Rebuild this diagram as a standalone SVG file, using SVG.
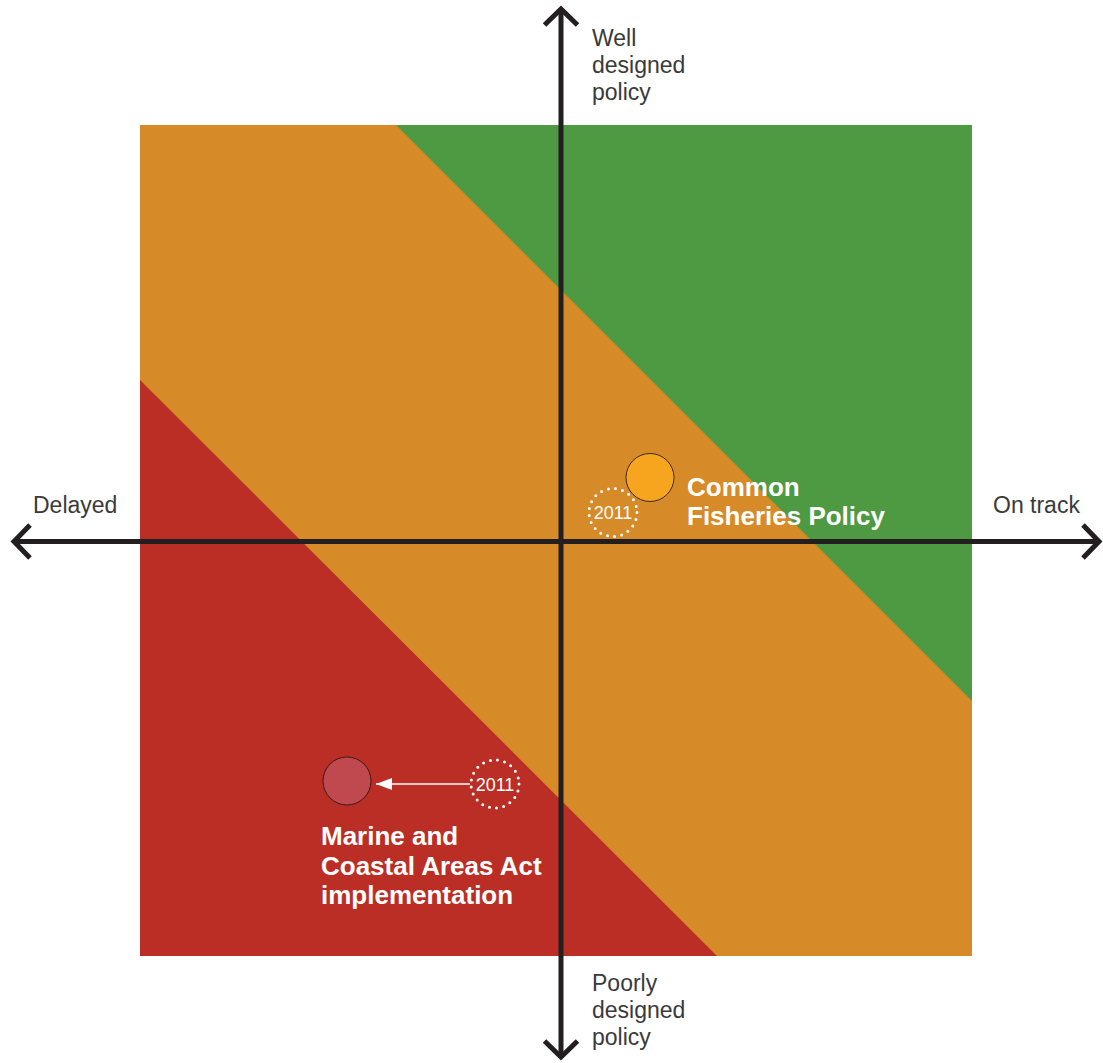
<svg xmlns="http://www.w3.org/2000/svg" width="1103" height="1063" viewBox="0 0 1103 1063">
<style>
.lbl{font-family:"Liberation Sans",Arial,sans-serif;font-size:23px;fill:#3a3a3a}
.bold{font-family:"Liberation Sans",Arial,sans-serif;font-size:26px;font-weight:bold;fill:#ffffff}
.yr{font-family:"Liberation Sans",Arial,sans-serif;font-size:18px;fill:#ffffff;text-anchor:middle}
.dot{fill:none;stroke:#ffffff;stroke-width:3;stroke-linecap:round;stroke-dasharray:0 7.18}
.axis{stroke:#231f20;stroke-width:5;fill:none}
.head{stroke:#231f20;stroke-width:5;fill:none;stroke-linecap:butt;stroke-linejoin:miter}
</style>
<defs>
<marker id="tri" markerWidth="17" markerHeight="12" refX="16" refY="6" orient="auto" markerUnits="userSpaceOnUse">
<path d="M0,0 L16,6 L0,12 Z" fill="#ffffff"/>
</marker>
</defs>
<g id="background">
<rect x="140" y="125" width="832" height="831" fill="#d78a28"/>
<polygon points="396,125 972,125 972,701" fill="#4e9a43"/>
<polygon points="140,380 717,956 140,956" fill="#bb2e25"/>
</g>
<g id="connectors">
<line class="axis" x1="14" y1="541.5" x2="1099" y2="541.5"/>
<polyline class="head" points="30,525 14,541.5 30,558"/>
<polyline class="head" points="1083,525 1099,541.5 1083,558"/>
<line class="axis" x1="561" y1="9" x2="561" y2="1057"/>
<polyline class="head" points="544.5,25 561,9 577.5,25"/>
<polyline class="head" points="544.5,1041 561,1057 577.5,1041"/>
<line x1="470" y1="784" x2="376" y2="784" stroke="#ffffff" stroke-width="1.5" marker-end="url(#tri)"/>
</g>
<g id="axis-labels">
<text class="lbl" x="592" y="46">Well</text>
<text class="lbl" x="592" y="73">designed</text>
<text class="lbl" x="592" y="100">policy</text>
<text class="lbl" x="33" y="513">Delayed</text>
<text class="lbl" x="993" y="513">On track</text>
<text class="lbl" x="592" y="991">Poorly</text>
<text class="lbl" x="592" y="1018">designed</text>
<text class="lbl" x="592" y="1045">policy</text>
</g>
<g id="node-cfp-2011">
<circle class="dot" cx="613" cy="512.5" r="24"/>
<text class="yr" x="613" y="519">2011</text>
</g>
<g id="node-cfp">
<circle cx="650" cy="477.5" r="24" fill="#f7a51e" stroke="#3a2a1a" stroke-width="1"/>
<text class="bold" x="687" y="496">Common</text>
<text class="bold" x="687" y="525">Fisheries Policy</text>
</g>
<g id="node-mcaa-2011">
<circle class="dot" cx="495" cy="784" r="24"/>
<text class="yr" x="495" y="790.5">2011</text>
</g>
<g id="node-mcaa">
<circle cx="347" cy="781" r="24" fill="#c0494f" stroke="#3a1a1a" stroke-width="1"/>
<text class="bold" x="321" y="845">Marine and</text>
<text class="bold" x="321" y="875">Coastal Areas Act</text>
<text class="bold" x="321" y="904">implementation</text>
</g>
</svg>
